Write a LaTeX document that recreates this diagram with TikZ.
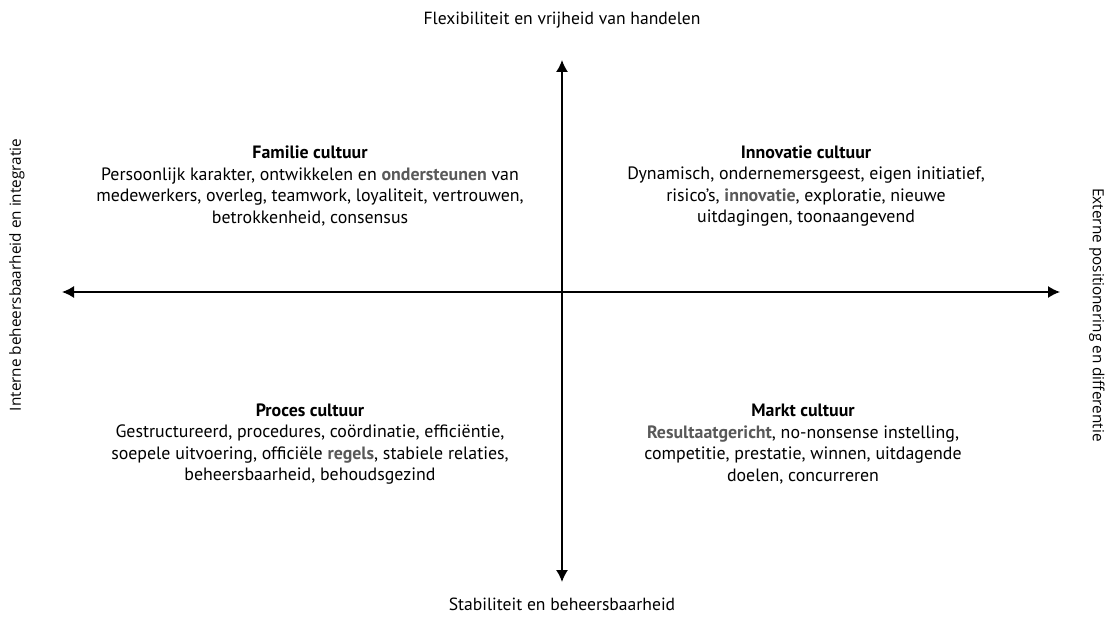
\documentclass[tikz,border=0pt]{standalone}
\usepackage{fontspec}
\setmainfont{PT Sans}
\newfontfamily\sidefont{Open Sans}
\usetikzlibrary{arrows.meta,positioning}
\definecolor{accent}{HTML}{595959}
\newcommand{\kw}[1]{\textbf{\textcolor{accent}{#1}}}

\begin{document}
\begin{tikzpicture}[x=0.75pt,y=-0.75pt,
    quad/.style={align=center,font=\fontsize{13.4}{16.1}\selectfont,inner sep=0pt},
    axislabel/.style={font=\fontsize{13.2}{15}\selectfont,inner sep=0pt},
    sidelabel/.style={font=\sidefont\fontsize{11.5}{13}\selectfont,inner sep=0pt},
    axis/.style={line width=1.1pt,{Latex[length=9pt,width=9pt]}-{Latex[length=9pt,width=9pt]}}]
  \useasboundingbox (0,0) rectangle (1112,623);
  \path
  (562,60) coordinate(top)
  (562,582) coordinate(bot)
  (62,292) coordinate(left)
  (1060,292) coordinate(right)
  (562,20) node[axislabel](flex) {Flexibiliteit en vrijheid van handelen}
  (562,604) node[axislabel](stab) {Stabiliteit en beheersbaarheid}
  (17,275) node[sidelabel,rotate=90](intern) {Interne beheersbaarheid en integratie}
  (1097,315) node[sidelabel,rotate=-90](extern) {Externe positionering en differentie}
  (310,186) node[quad](familie) {\textbf{Familie cultuur}\\
    Persoonlijk karakter, ontwikkelen en \kw{ondersteunen} van\\
    medewerkers, overleg, teamwork, loyaliteit, vertrouwen,\\
    betrokkenheid, consensus}
  (806,186) node[quad](innovatie) {\textbf{Innovatie cultuur}\\
    Dynamisch, ondernemersgeest, eigen initiatief,\\
    risico’s, \kw{innovatie}, exploratie, nieuwe\\
    uitdagingen, toonaangevend}
  (310,444) node[quad](proces) {\textbf{Proces cultuur}\\
    Gestructureerd, procedures, coördinatie, efficiëntie,\\
    soepele uitvoering, officiële \kw{regels}, stabiele relaties,\\
    beheersbaarheid, behoudsgezind}
  (803,444) node[quad](markt) {\textbf{Markt cultuur}\\
    \kw{Resultaatgericht}, no-nonsense instelling,\\
    competitie, prestatie, winnen, uitdagende\\
    doelen, concurreren}
  ;

  \draw[axis] (bot) -- (top);
  \draw[axis] (left) -- (right);
\end{tikzpicture}
\end{document}
